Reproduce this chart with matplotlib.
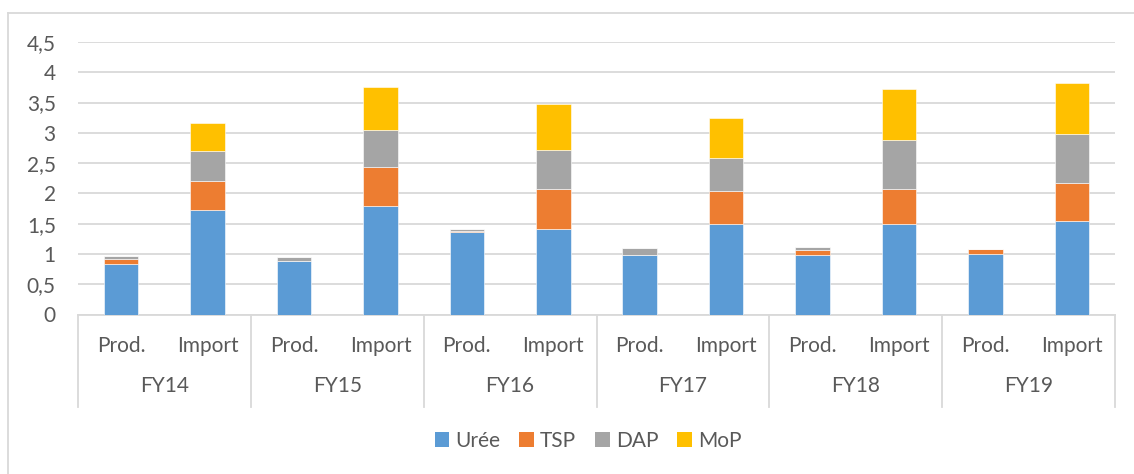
import numpy as np
import matplotlib.pyplot as plt
from matplotlib.lines import Line2D
from matplotlib.patches import Patch
import matplotlib.transforms as mtransforms

# ------------------------------
# Données (millions de tonnes)
# ------------------------------
years = ["FY14", "FY15", "FY16", "FY17", "FY18", "FY19"]
kinds = ["Prod.", "Import"]
series = ["Urée", "TSP", "DAP", "MoP"]
colors = ["#5B9BD5", "#ED7D31", "#A5A5A5", "#FFC000"]

# ordre : FY14 Prod, FY14 Import, FY15 Prod, ...
uree = [0.83, 1.72, 0.89, 1.80, 1.37, 1.42, 0.99, 1.49, 0.99, 1.49, 1.00, 1.54]
tsp = [0.08, 0.48, 0.00, 0.63, 0.01, 0.65, 0.00, 0.55, 0.08, 0.58, 0.08, 0.63]
dap = [0.05, 0.50, 0.06, 0.62, 0.04, 0.65, 0.11, 0.55, 0.04, 0.81, 0.00, 0.81]
mop = [0.00, 0.46, 0.00, 0.70, 0.00, 0.76, 0.00, 0.65, 0.00, 0.84, 0.00, 0.85]

yticks = [0, 0.5, 1, 1.5, 2, 2.5, 3, 3.5, 4, 4.5]

txt = "#595959"
grid = "#D9D9D9"
fs = 15
plt.rcParams["font.family"] = ["Lato", "DejaVu Sans"]

W, H = 1134, 474
fig = plt.figure(figsize=(W / 100, H / 100), dpi=100)
ax = fig.add_axes([78 / W, 1 - 314.5 / H, (1115 - 78) / W, (314.5 - 42) / H])

x = np.arange(len(uree))
bottom = np.zeros(len(uree))
for vals, c in zip([uree, tsp, dap, mop], colors):
    v = np.array(vals)
    ax.bar(x, v, 0.4, bottom=bottom, color=c, edgecolor="white", linewidth=0.4, zorder=3)
    bottom += v

ax.set_xlim(-0.5, len(uree) - 0.5)
ax.set_ylim(0, 4.5)
ax.set_yticks(yticks)
ax.set_yticklabels([("%g" % t).replace(".", ",") for t in yticks])
ax.tick_params(axis="y", length=0, pad=16, labelsize=fs, labelcolor=txt)
ax.set_xticks([])
ax.yaxis.grid(True, color=grid, linewidth=1.3, zorder=0)
for s in ["top", "right", "left"]:
    ax.spines[s].set_visible(False)
ax.spines["bottom"].set_color(grid)
ax.spines["bottom"].set_linewidth(1.3)

# étiquettes de catégories à deux niveaux
trans = mtransforms.blended_transform_factory(ax.transData, ax.transAxes)
for i in range(len(uree)):
    ax.text(i, -0.116, kinds[i % 2], transform=trans, ha="center", va="center",
            fontsize=fs, color=txt)
for j, y in enumerate(years):
    ax.text(2 * j + 0.5, -0.262, y, transform=trans, ha="center", va="center",
            fontsize=fs, color=txt)
for j in range(len(years) + 1):
    ax.add_line(Line2D([2 * j - 0.5, 2 * j - 0.5], [0, -0.34], transform=trans,
                       color=grid, linewidth=1.3, clip_on=False))

# cadre du graphique
fig.add_artist(Line2D([8 / W, 8 / W], [0, 1 - 13 / H], color=grid, linewidth=1.3))
fig.add_artist(Line2D([8 / W, 1], [1 - 13 / H, 1 - 13 / H], color=grid, linewidth=1.3))

handles = [Patch(facecolor=c, label=s) for s, c in zip(series, colors)]
fig.legend(handles=handles, loc="center", bbox_to_anchor=(588 / W, 1 - 441 / H),
           ncol=4, frameon=False, fontsize=fs, labelcolor=txt, handlelength=0.7,
           handleheight=0.7, handletextpad=0.3, columnspacing=0.9)

fig.savefig("out.png", dpi=100)
